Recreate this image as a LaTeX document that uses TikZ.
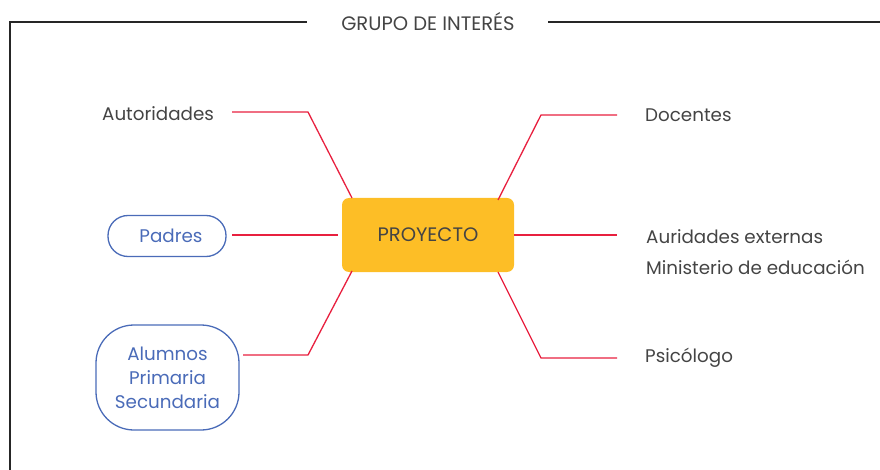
\documentclass[tikz,border=0pt]{standalone}
\usepackage{fontspec}
\setmainfont{Poppins}
\definecolor{projyellow}{HTML}{FDBE26}
\definecolor{linkred}{HTML}{E8203F}
\definecolor{boxblue}{HTML}{4A6BB8}
\definecolor{txtgray}{HTML}{444444}
\begin{document}
\begin{tikzpicture}[x=1pt,y=-1pt,
  frame/.style={line width=1.6pt,black!85},
  link/.style={linkred,line width=1.3pt},
  lbl/.style={font=\fontsize{18.3}{22}\selectfont,text=txtgray,inner sep=0pt},
  bluebox/.style={draw=boxblue,line width=1.3pt,text=boxblue,font=\fontsize{18.3}{22}\selectfont,align=center},
]
\useasboundingbox (0,0) rectangle (880,470);
% frame
\node[lbl,font=\fontsize{19.5}{22}\selectfont] (title) at (428,22) {GRUPO DE INTERÉS};
\coordinate (fl) at (10,470);
\coordinate (ftl) at (10,22);
\coordinate (ft1) at (307,22);
\coordinate (ft2) at (548,22);
\coordinate (ftr) at (880,22);
\draw[frame] (fl) -- (ftl) -- (ft1);
\draw[frame] (ft2) -- (ftr);
% center
\node[fill=projyellow,rounded corners=7pt,minimum width=172pt,minimum height=74pt,
  font=\fontsize{19.5}{22}\selectfont,text=txtgray] (proj) at (428,235) {PROYECTO};
% left labels
\node[lbl,anchor=west] (aut) at (102,114) {Autoridades};
\node[bluebox,rounded corners=20pt,minimum width=118pt,minimum height=41pt,inner sep=0pt] (pad) at (167,236) {\hspace{8pt}Padres};
\node[bluebox,rounded corners=38pt,minimum width=143pt,minimum height=105pt,inner sep=0pt,
  font=\fontsize{18.3}{24}\selectfont] (alu) at (167.5,377.5) {\raisebox{-2pt}{\parbox{130pt}{\centering Alumnos\\Primaria\\Secundaria}}};
% right labels
\node[lbl,anchor=west] (doc) at (645,115) {Docentes};
\node[lbl,anchor=west,align=left,font=\fontsize{18.3}{31}\selectfont] (ext) at (646,252) {Auridades externas\\Ministerio de educación};
\node[lbl,anchor=west] (psi) at (645,358) {Psicólogo};
% connector end points
\coordinate (a0) at (352,198); \coordinate (a1) at (308,112); \coordinate (a2) at (232,112);
\coordinate (p0) at (338,235); \coordinate (p2) at (232,235);
\coordinate (l0) at (352,271); \coordinate (l1) at (308,355); \coordinate (l2) at (243,355);
\coordinate (d0) at (498,200); \coordinate (d1) at (541,115); \coordinate (d2) at (617,115);
\coordinate (e0) at (514,235); \coordinate (e2) at (617,235);
\coordinate (s0) at (498,272); \coordinate (s1) at (541,358); \coordinate (s2) at (617,358);
\draw[link] (a0) -- (a1) -- (a2);
\draw[link] (p0) -- (p2);
\draw[link] (l0) -- (l1) -- (l2);
\draw[link] (d0) -- (d1) -- (d2);
\draw[link] (e0) -- (e2);
\draw[link] (s0) -- (s1) -- (s2);
\end{tikzpicture}
\end{document}
